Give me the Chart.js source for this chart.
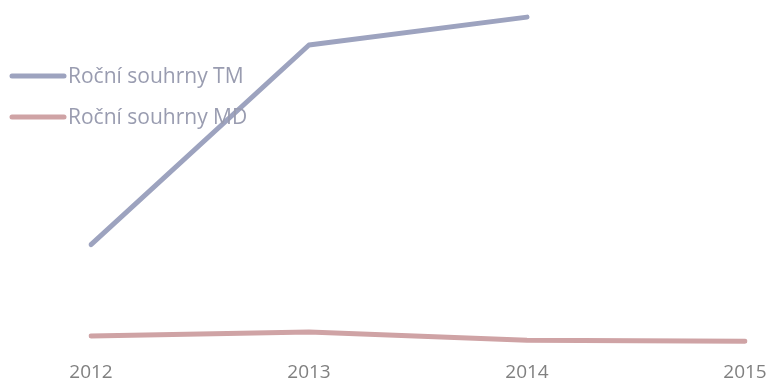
<!DOCTYPE html>
<html>
<head>
<meta charset="utf-8">
<script src="https://cdn.jsdelivr.net/npm/chart.js@4"></script>
<style>
  html, body { margin: 0; padding: 0; background: #fff; }
  #wrap { width: 770px; height: 385px; }
</style>
</head>
<body>
<div id="wrap"><canvas id="myChart"></canvas></div>
<script>
const roky = ['2012', '2013', '2014', '2015'];
const souhrnyTM = [31, 89.7, 97.9, null];
const souhrnyMD = [4.1, 5.3, 2.9, 2.6];

// legenda kreslena primo do plochy grafu, vlevo nahore
const vnitrniLegenda = {
  id: 'vnitrniLegenda',
  afterDraw(chart) {
    const ctx = chart.ctx;
    ctx.save();
    ctx.font = '21px "Open Sans", sans-serif';
    ctx.textBaseline = 'middle';
    chart.data.datasets.forEach((ds, i) => {
      const y = 76 + i * 41;
      ctx.strokeStyle = ds.borderColor;
      ctx.lineWidth = 5;
      ctx.lineCap = 'round';
      ctx.beginPath();
      ctx.moveTo(12, y);
      ctx.lineTo(64, y);
      ctx.stroke();
      ctx.fillStyle = '#999cb0';
      ctx.fillText(ds.label, 68, y + 1);
    });
    ctx.restore();
  }
};

const ctx1 = document.getElementById('myChart');

new Chart(ctx1, {
  type: 'line',
  data: {
    labels: roky,
    datasets: [{
      label: 'Roční souhrny TM',
      data: souhrnyTM,
      borderColor: '#9da3bf',
      borderWidth: 5,
      pointRadius: 0,
      borderCapStyle: 'round',
      borderJoinStyle: 'round'
    }, {
      label: 'Roční souhrny MD',
      data: souhrnyMD,
      borderColor: '#cfa3a5',
      borderWidth: 5,
      pointRadius: 0,
      borderCapStyle: 'round',
      borderJoinStyle: 'round'
    }]
  },
  options: {
    responsive: true,
    maintainAspectRatio: false,
    animation: false,
    layout: {
      padding: { left: 91, right: 0, top: 10, bottom: 0 }
    },
    plugins: {
      legend: { display: false },
      tooltip: { enabled: false }
    },
    scales: {
      y: {
        display: false,
        min: 0,
        max: 100
      },
      x: {
        offset: false,
        grid: { display: false, drawTicks: false },
        border: { display: false },
        ticks: {
          padding: 11,
          color: '#808080',
          maxRotation: 0,
          font: { family: '"Open Sans", sans-serif', size: 19 }
        },
        afterFit(scale) {
          // pevna vyska osy a okraje, aby 2012 a 2015 sedely na krajich
          scale.height = 35;
          scale.paddingLeft = 0;
          scale.paddingRight = 25;
        }
      }
    }
  },
  plugins: [vnitrniLegenda]
});
</script>
</body>
</html>
